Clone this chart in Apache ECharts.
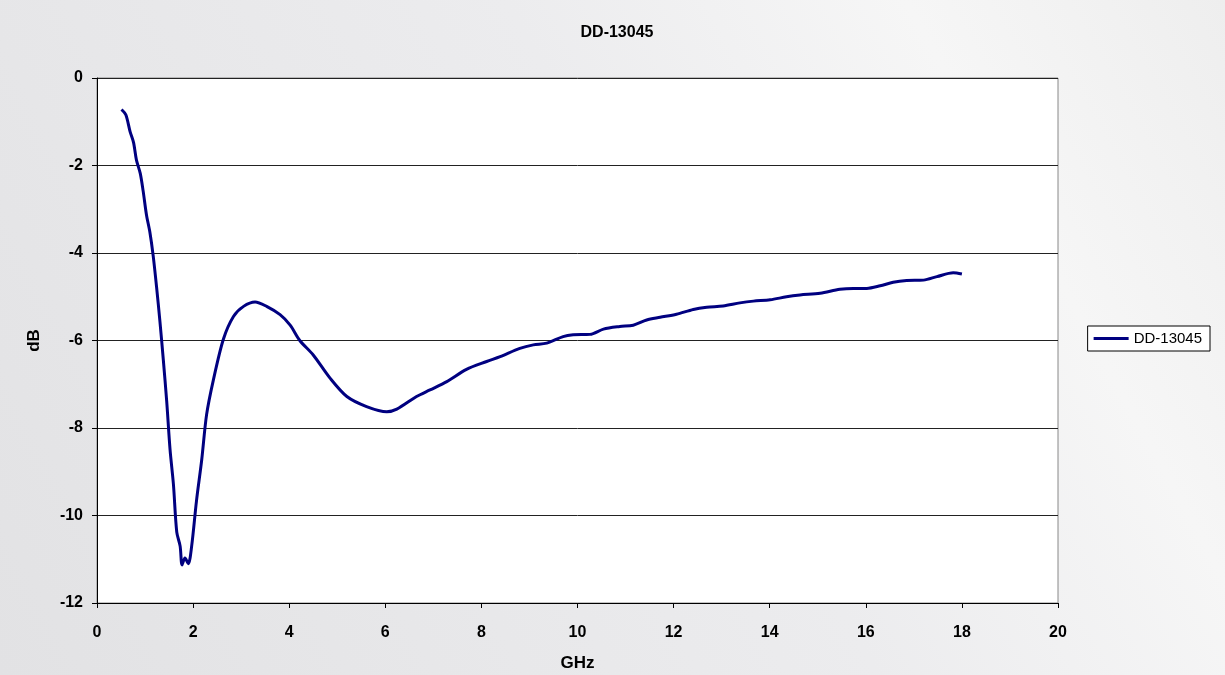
<!DOCTYPE html>
<html>
<head>
<meta charset="utf-8">
<title>DD-13045</title>
<style>
  html, body { margin: 0; padding: 0; }
  #main { width: 1225px; height: 675px; }
</style>
</head>
<body>
    <div id="main"></div>
    <script src="https://cdn.jsdelivr.net/npm/echarts@6/dist/echarts.min.js"></script>
    <script type="text/javascript">
        // values
        var seriesName = 'DD-13045';
        var freq = [0.51, 0.6, 0.69, 0.76, 0.82, 0.9, 0.96, 1.03, 1.1, 1.17, 1.24, 1.31, 1.38, 1.45, 1.52, 1.59,
                    1.66, 1.73, 1.77, 1.83, 1.9, 1.97, 2.07, 2.18, 2.28, 2.42, 2.63, 2.84, 3.05, 3.29, 3.53, 3.81,
                    4.02, 4.22, 4.5, 4.85, 5.2, 5.61, 6.03, 6.24, 6.65, 6.93, 7.28, 7.69, 8.11, 8.39, 8.8, 9.08,
                    9.36, 9.7, 9.91, 10.26, 10.54, 10.88, 11.16, 11.44, 11.72, 12.06, 12.41, 12.69, 13.03, 13.38,
                    13.66, 14.01, 14.35, 14.63, 15.05, 15.46, 15.74, 16.02, 16.3, 16.57, 16.85, 17.2, 17.48, 17.82, 18.0];
        var dB = [-0.72, -0.84, -1.23, -1.47, -1.87, -2.18, -2.58, -3.13, -3.52, -4.07, -4.78, -5.57, -6.44, -7.38, -8.49, -9.28,
                  -10.38, -10.7, -11.13, -10.97, -11.1, -10.7, -9.67, -8.72, -7.7, -6.91, -5.97, -5.45, -5.22, -5.12, -5.22, -5.41,
                  -5.65, -6.0, -6.33, -6.86, -7.28, -7.51, -7.63, -7.57, -7.28, -7.13, -6.94, -6.66, -6.48, -6.37, -6.18, -6.1,
                  -6.06, -5.91, -5.87, -5.86, -5.74, -5.68, -5.65, -5.53, -5.47, -5.4, -5.29, -5.24, -5.21, -5.14,
                  -5.1, -5.07, -5.0, -4.96, -4.92, -4.83, -4.81, -4.81, -4.75, -4.67, -4.63, -4.62, -4.54, -4.45, -4.48];

        var points = freq.map(function (f, i) { return [f, dB[i]]; });

        var labelFont = { fontFamily: 'Liberation Sans, Arial', fontWeight: 'bold', fontSize: 16, color: '#000' };

        var myChart = echarts.init(document.getElementById('main'));
        var option = {
            animation: false,
            backgroundColor: new echarts.graphic.LinearGradient(0, 1, 1, 0, [
                { offset: 0, color: '#e2e2e4' },
                { offset: 0.55, color: '#ececee' },
                { offset: 0.8, color: '#f6f6f6' },
                { offset: 1, color: '#eeeeee' }
            ]),
            title: {
                text: 'DD-13045',
                left: 612,
                textAlign: 'center',
                top: 20,
                textStyle: { fontFamily: 'Liberation Sans, Arial', fontWeight: 'bold', fontSize: 16, color: '#000' }
            },
            legend: {
                data: [seriesName],
                right: 15,
                top: 326,
                orient: 'vertical',
                backgroundColor: '#fff',
                borderColor: '#000',
                borderWidth: 1,
                borderRadius: 0,
                padding: [5, 8, 5, 6],
                itemWidth: 35,
                itemHeight: 3,
                itemGap: 0,
                icon: 'rect',
                textStyle: { fontFamily: 'Liberation Sans, Arial', fontSize: 15, color: '#000' }
            },
            grid: {
                left: 97,
                right: 167,
                top: 78,
                bottom: 72,
                outerBoundsMode: 'none',
                containLabel: false,
                show: true,
                backgroundColor: '#fff',
                borderColor: '#888',
                borderWidth: 1
            },
            xAxis: {
                type: 'value',
                min: 0,
                max: 20,
                interval: 2,
                name: 'GHz',
                nameLocation: 'middle',
                nameGap: 52,
                nameTextStyle: { fontFamily: 'Liberation Sans, Arial', fontWeight: 'bold', fontSize: 17, color: '#000' },
                axisLine: { onZero: false, lineStyle: { color: '#000' } },
                axisTick: { show: true, length: 5, lineStyle: { color: '#000' } },
                axisLabel: Object.assign({ margin: 22 }, labelFont),
                splitLine: { show: false }
            },
            yAxis: {
                type: 'value',
                min: -12,
                max: 0,
                interval: 2,
                name: 'dB',
                nameLocation: 'middle',
                nameGap: 54,
                nameRotate: 90,
                nameTextStyle: { fontFamily: 'Liberation Sans, Arial', fontWeight: 'bold', fontSize: 17, color: '#000' },
                axisLine: { show: true, onZero: false, lineStyle: { color: '#000' } },
                axisTick: { show: true, length: 5, lineStyle: { color: '#000' } },
                axisLabel: Object.assign({ margin: 14 }, labelFont),
                splitLine: { show: true, lineStyle: { color: '#222', width: 1 } }
            },
            series: [{
                name: seriesName,
                type: 'line',
                data: points,
                smooth: 0.3,
                showSymbol: false,
                symbol: 'none',
                lineStyle: { color: '#000080', width: 3 },
                itemStyle: { color: '#000080' }
            }]
        };
        myChart.setOption(option);
    </script>
</body>
</html>
